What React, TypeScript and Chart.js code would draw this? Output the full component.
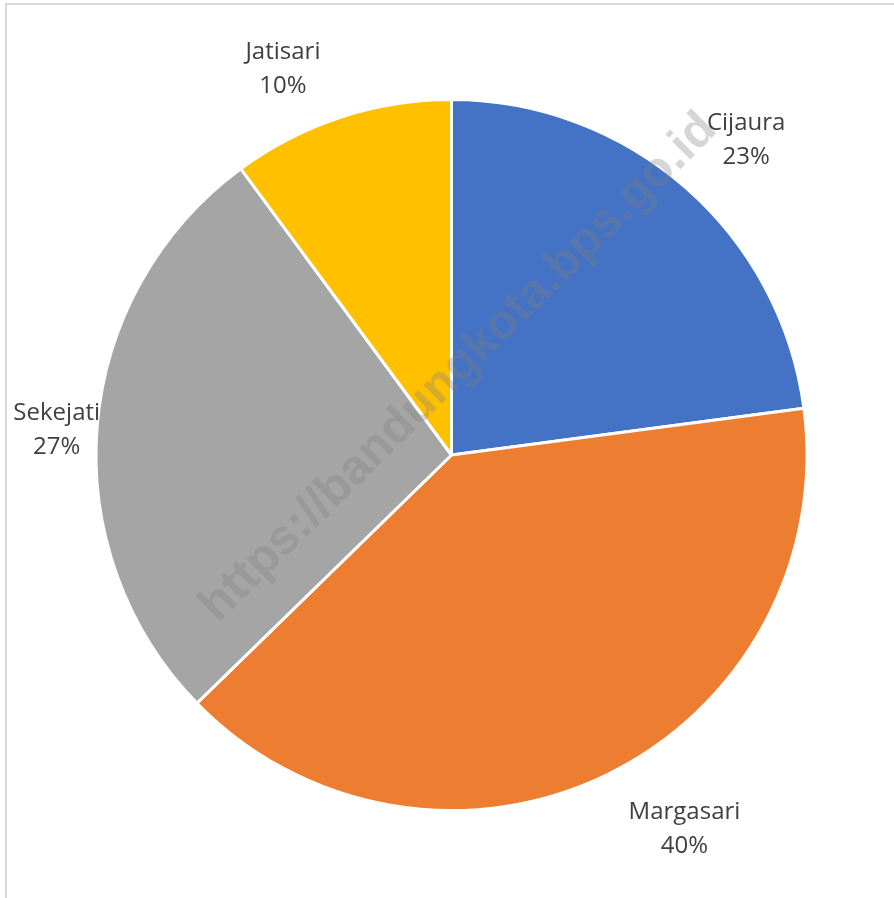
import React, { useEffect, useRef } from "react";
import { Chart, registerables } from "chart.js";

Chart.register(...registerables);

const categories = ["Cijaura", "Margasari", "Sekejati", "Jatisari"];
const values = [22.9, 39.8, 27.2, 10.1];
const percentLabels = ["23%", "40%", "27%", "10%"];
const colors = ["#4472C4", "#ED7D31", "#A5A5A5", "#FFC000"];

// label placement relative to each slice: angle shift (deg) and distance as a factor of radius
const labelAngleShift = [1.7, -6.1, -0.8, -5.3];
const labelRadiusFactor = [1.217, 1.236, 1.113, 1.19];

const WATERMARK = "https://bandungkota.bps.go.id";

const framePlugin = {
  id: "frame",
  beforeDraw(chart: any) {
    const ctx = chart.ctx;
    ctx.save();
    ctx.fillStyle = "#ffffff";
    ctx.fillRect(0, 0, chart.width, chart.height);
    ctx.fillStyle = "#D9D9D9";
    ctx.fillRect(5, 3, 2, chart.height - 3);
    ctx.fillRect(5, 3, chart.width - 5, 2);
    ctx.restore();
  },
};

const watermarkPlugin = {
  id: "watermark",
  afterDatasetsDraw(chart: any) {
    const ctx = chart.ctx;
    const area = chart.chartArea;
    const cx = (area.left + area.right) / 2 + 4.5;
    const cy = (area.top + area.bottom) / 2 - 90;
    ctx.save();
    ctx.translate(cx, cy);
    ctx.rotate((-44.5 * Math.PI) / 180);
    ctx.font = "bold 49px 'Liberation Sans', Arial, sans-serif";
    ctx.fillStyle = "rgba(128,128,128,0.32)";
    ctx.textAlign = "center";
    ctx.textBaseline = "alphabetic";
    ctx.fillText(WATERMARK, 0, 17.5);
    ctx.restore();
  },
};

const labelPlugin = {
  id: "sliceLabels",
  afterDraw(chart: any) {
    const ctx = chart.ctx;
    const meta = chart.getDatasetMeta(0);
    ctx.save();
    ctx.font = "24px 'Open Sans', 'Noto Sans', sans-serif";
    ctx.fillStyle = "#404040";
    ctx.textAlign = "center";
    ctx.textBaseline = "alphabetic";
    meta.data.forEach((arc: any, i: number) => {
      const p = arc.getProps(["x", "y", "startAngle", "endAngle", "outerRadius"], true);
      const mid = (p.startAngle + p.endAngle) / 2 + (labelAngleShift[i] * Math.PI) / 180;
      const d = p.outerRadius * labelRadiusFactor[i];
      const lx = p.x + Math.cos(mid) * d;
      const ly = p.y + Math.sin(mid) * d;
      ctx.fillText(categories[i], lx, ly - 8.25);
      ctx.fillText(percentLabels[i], lx, ly + 25.75);
    });
    ctx.restore();
  },
};

export default function App() {
  const ref = useRef<HTMLCanvasElement | null>(null);

  useEffect(() => {
    document.body.style.margin = "0";
    const canvas = ref.current;
    if (!canvas) return;
    const chart = new Chart(canvas, {
      type: "pie",
      data: {
        labels: categories,
        datasets: [
          {
            data: values,
            backgroundColor: colors,
            borderColor: "#ffffff",
            borderWidth: 3,
            hoverOffset: 0,
          },
        ],
      },
      options: {
        responsive: false,
        animation: false,
        devicePixelRatio: 1,
        radius: 355.5,
        layout: { padding: { left: 97, right: 88, top: 101, bottom: 89 } },
        plugins: {
          legend: { display: false },
          tooltip: { enabled: false },
        },
        events: [],
      },
      plugins: [framePlugin, watermarkPlugin, labelPlugin],
    } as any);
    return () => chart.destroy();
  }, []);

  return (
    <div style={{ width: 894, height: 898, position: "relative" }}>
      <canvas ref={ref} width={894} height={898} style={{ display: "block" }} />
    </div>
  );
}
